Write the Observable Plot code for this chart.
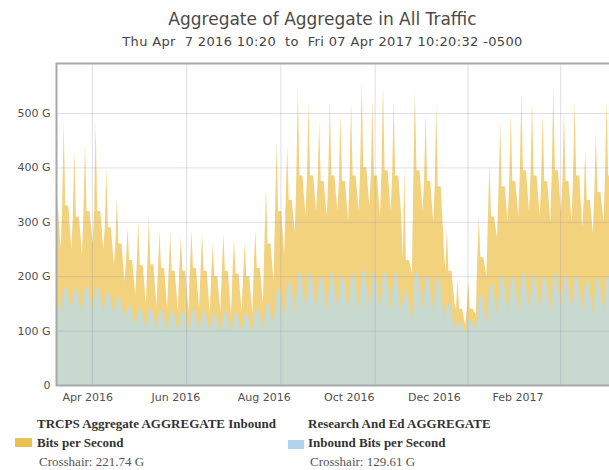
<!DOCTYPE html>
<html><head><meta charset="utf-8">
<script src="https://cdn.jsdelivr.net/npm/d3@7"></script>
<script src="https://cdn.jsdelivr.net/npm/@observablehq/plot@0.6"></script>
<style>
html,body{margin:0;padding:0;background:#fff}
body{width:609px;height:470px;overflow:hidden;position:relative;font-family:"DejaVu Sans",sans-serif}
#title{position:absolute;left:18px;width:609px;top:9px;text-align:center;font-size:17px;color:#4a4a4a;line-height:21px}
#subtitle{position:absolute;left:18px;width:609px;top:34px;text-align:center;font-size:13px;letter-spacing:0.35px;color:#444;line-height:16px;white-space:pre}
#chart{position:absolute;left:0;top:50px}
.leg{position:absolute;font-family:"Liberation Serif",serif;font-size:13px;line-height:19px;color:#333;white-space:nowrap}
.leg b{font-weight:bold}
.leg .ch{color:#555;padding-left:2px}
.sw{position:absolute;width:17px;height:9px}
</style></head>
<body>
<div id="title">Aggregate of Aggregate in All Traffic</div>
<div id="subtitle">Thu Apr  7 2016 10:20  to  Fri 07 Apr 2017 10:20:32 -0500</div>
<div id="chart"></div>
<div class="sw" style="left:15px;top:438px;background:#e8c250"></div>
<div class="leg" style="left:37px;top:414px"><b>TRCPS Aggregate AGGREGATE Inbound</b><br><b>Bits per Second</b><br><span class="ch">Crosshair: 221.74 G</span></div>
<div class="sw" style="left:288px;top:440px;width:16px;background:#b0d4f0"></div>
<div class="leg" style="left:308px;top:414px"><b>Research And Ed AGGREGATE</b><br><b>Inbound Bits per Second</b><br><span class="ch">Crosshair: 129.61 G</span></div>
<script>
// Time range of the chart
const rangeStart = "2016-04-07T10:20Z";
const rangeEnd = "2017-04-07T10:20Z";
// Weekly samples: week k -> Tuesday peak, weekday shoulder level, Sunday trough
const firstTuesday = "2016-04-12T12:00Z";
// Leading partial week (Thu Apr 7, Sun Apr 10)
const leadDates = ["2016-04-07T10:20Z", "2016-04-10T12:00Z"];
const trcpsLead = [380, 250];
const reLead = [160, 135];

// TRCPS Aggregate (G bits/s)
const trcpsPeak = [485,432,445,485,398,345,290,302,310,284,280,275,284,280,262,278,268,262,284,363,
  445,440,548,518,485,524,500,524,561,524,555,524,400,542,500,518,290,197,192,308,
  408,483,500,539,524,500,548,505,524,432,463,524];
const trcpsShoulder = [330,310,320,320,290,260,230,220,222,215,210,210,215,210,200,210,205,200,215,260,
  320,340,385,385,375,385,375,385,400,385,395,385,230,395,375,365,210,140,140,235,
  310,365,375,395,385,375,395,375,385,340,355,385];
const trcpsTrough = [250,240,260,250,220,190,165,150,145,140,138,135,140,132,135,130,135,132,150,190,
  240,280,310,320,310,320,300,320,330,310,320,310,205,320,300,250,150,110,130,200,
  270,300,310,320,310,300,320,300,290,280,300,300];

// Research And Ed (G bits/s)
const rePeak = [180,175,180,178,170,160,145,140,140,138,135,135,138,135,130,135,132,130,140,150,
  175,190,205,205,200,205,200,205,210,205,208,205,170,208,200,195,150,115,120,165,
  185,200,200,205,200,198,205,200,200,190,195,200];
const reTrough = [140,135,140,135,130,125,110,105,105,100,100,100,102,100,98,100,98,98,102,110,
  125,135,140,140,138,140,138,140,142,140,140,135,115,140,135,125,105,95,100,115,
  130,135,138,140,138,135,140,138,136,132,135,138];

// Axis ticks
const yTicks = [0,100,200,300,400,500];
const tickDates = ["2016-04-28","2016-06-25","2016-08-22","2016-10-17","2016-12-12","2017-02-05"];
const tickLabels = ["Apr 2016","Jun 2016","Aug 2016","Oct 2016","Dec 2016","Feb 2017"];
const gridDates = ["2016-05-01","2016-07-02","2016-09-02","2016-11-03","2017-01-03","2017-03-05"];

const P = s => new Date(s);
const tue0 = P(firstTuesday);
// sample pattern: [day offset from Tuesday, which value]
const yellowPattern = [[-1,"s"],[0,"p"],[1,"s"],[3,"s"],[5,"t"]];
const bluePattern = [[0,"p"],[2,"p"],[5,"t"]];
function build(lead, pattern, vals) {
  const out = leadDates.map((d, i) => ({date: P(d), value: lead[i]}));
  vals.p.forEach((_, k) => {
    pattern.forEach(([off, key]) => out.push({date: d3.utcDay.offset(tue0, 7*k + off), value: vals[key][k]}));
  });
  return out;
}
const trcps = build(trcpsLead, yellowPattern, {p: trcpsPeak, s: trcpsShoulder, t: trcpsTrough});
const re = build(reLead, bluePattern, {p: rePeak, t: reTrough});
const tickD = tickDates.map(s => P(s + "T00:00Z"));

const chart = Plot.plot({
  width: 609, height: 357,
  marginTop: 13, marginBottom: 22, marginLeft: 56, marginRight: -2,
  style: {fontFamily: "DejaVu Sans, sans-serif", fontSize: "11px", color: "#505050", background: "transparent", overflow: "visible"},
  x: {type: "utc", domain: [P(rangeStart), P(rangeEnd)], ticks: tickD,
      tickFormat: d => tickLabels[tickD.findIndex(t => +t === +d)], tickSize: 0, tickPadding: 8, label: null},
  y: {domain: [0, 592], ticks: yTicks, tickFormat: d => d === 0 ? "0" : d + " G", tickSize: 0, tickPadding: 6, label: null},
  marks: [
    Plot.areaY(trcps, {x: "date", y: "value", fill: "#f3d27e", clip: true}),
    Plot.areaY(re, {x: "date", y: "value", fill: "#b5dcf2", fillOpacity: 0.7, clip: true}),
    Plot.ruleY(yTicks.filter(d => d > 0), {stroke: "#8c8cb4", strokeOpacity: 0.28}),
    Plot.ruleX(gridDates.map(s => P(s + "T00:00Z")), {stroke: "#8c8cb4", strokeOpacity: 0.28}),
    Plot.frame({stroke: "#a8a8a8", strokeWidth: 2})
  ]
});
document.getElementById("chart").appendChild(chart);
</script>
</body></html>
